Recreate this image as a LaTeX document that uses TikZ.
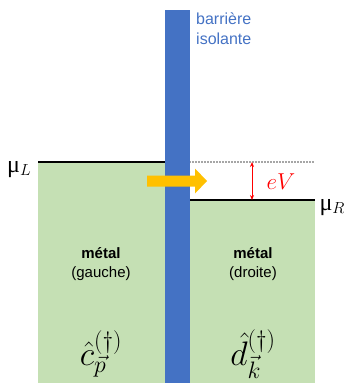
\RequirePackage{fix-cm}
\documentclass[tikz,border=0pt]{standalone}
\usepackage[no-math]{fontspec}
\setmainfont{Liberation Sans}
\newfontfamily\muserif{Liberation Serif}
\usetikzlibrary{arrows.meta}
\definecolor{metalgreen}{HTML}{C5E0B4}
\definecolor{barblue}{HTML}{4472C4}
\definecolor{flowor}{HTML}{FFC000}
\tikzset{
  metal/.style={fill=metalgreen, draw=none},
  level/.style={line width=1.2pt, black},
  lbl/.style={font=\fontsize{15}{19}\selectfont, align=center, inner sep=0pt},
  op/.style={font=\fontsize{34}{38}\selectfont, inner sep=0pt},
  mulbl/.style={inner sep=0pt, font=\fontsize{24}{26}\selectfont\muserif},
}
\begin{document}
\begin{tikzpicture}[x=1pt,y=-1pt]
\useasboundingbox (0,0) rectangle (344,383);
% metals
\fill[metal] (38,162) rectangle (166,383);
\fill[metal] (189,200) rectangle (315,383);
% levels
\coordinate (l1) at (38,162); \coordinate (l2) at (166,162);
\coordinate (r1) at (189,200); \coordinate (r2) at (315,200);
\coordinate (d1) at (189,162); \coordinate (d2) at (315,162);
\draw[level] (l1) -- (l2);
\draw[level] (r1) -- (r2);
\draw[gray!70, line width=1.2pt, dash pattern=on 1.5pt off 1.5pt] (d1) -- (d2);
% barrier
\fill[barblue] (165,10) rectangle (190,383);
\node[anchor=north west, inner sep=0pt, text=barblue, align=left, font=\fontsize{16}{20}\selectfont] (bar) at (196,13) {barrière\\isolante};
% orange arrow
\fill[flowor] (147,175.5) -- (195,175.5) -- (195,168.5) -- (207,181) -- (195,193.5) -- (195,186.5) -- (147,186.5) -- cycle;
% eV
\coordinate (e1) at (252,162); \coordinate (e2) at (252,200);
\draw[red, line width=0.9pt, {Stealth[length=5pt,width=4pt]}-{Stealth[length=5pt,width=4pt]}] (e1) -- (e2);
\node[text=red, inner sep=0pt, font=\fontsize{23}{25}\selectfont] (eV) at (281,182) {$eV$};
% mu labels
\node[mulbl] (muL) at (19,170) {μ\raisebox{-3pt}{\fontsize{16}{17}\selectfont$L$}};
\node[mulbl] (muR) at (332,208) {μ\raisebox{-3pt}{\fontsize{16}{17}\selectfont$R$}};
% metal labels
\node[lbl] (gL) at (101,264) {\textbf{métal}\\(gauche)};
\node[lbl] (gR) at (253,264) {\textbf{métal}\\(droite)};
\node[op] (cL) at (101,354) {$\hat{c}_{\vec{p}}^{(\dagger)}$};
\node[op] (dR) at (253,354) {$\hat{d}_{\vec{k}}^{(\dagger)}$};
\end{tikzpicture}
\end{document}
